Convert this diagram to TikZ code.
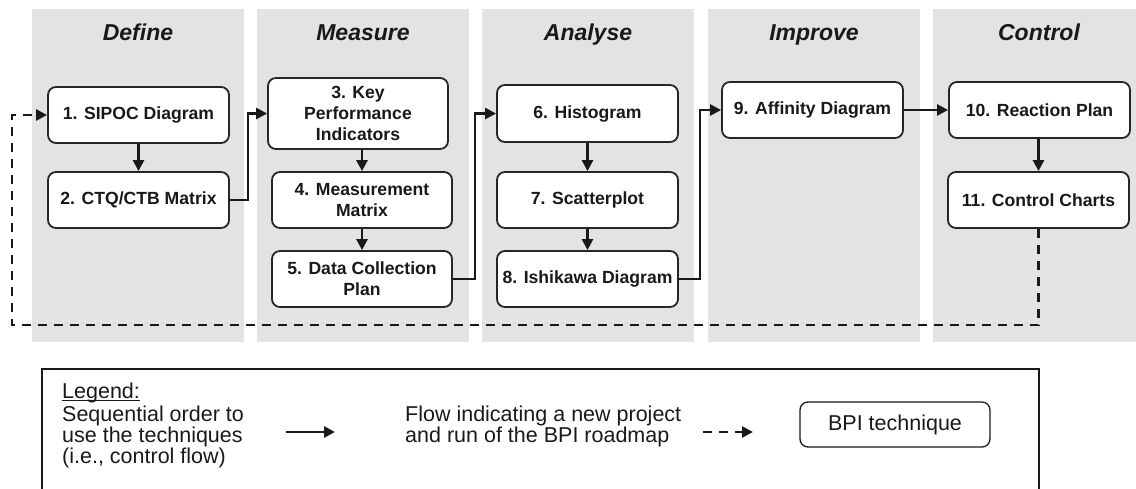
\documentclass[tikz,border=0pt]{standalone}
\usepackage{fontspec}
\setmainfont{Liberation Sans}
\usetikzlibrary{arrows.meta}
\definecolor{panelgray}{gray}{0.89}
\definecolor{ink}{gray}{0.1}
\definecolor{edge}{gray}{0.15}
% underline with a heavier rule than \underline gives
\newcommand{\heavyul}[1]{{\setbox0=\hbox{#1}\rlap{\rule[-3pt]{\wd0}{1.3pt}}\box0}}

\begin{document}
\begin{tikzpicture}[x=1pt, y=-1pt,
  phase/.style={fill=panelgray, draw=none},
  phasetitle/.style={font=\fontsize{23}{27}\selectfont\bfseries\itshape, text=ink, anchor=base},
  technique/.style={draw=edge, line width=1.8pt, rounded corners=8pt, fill=white,
    align=center, inner sep=0pt, minimum width=181pt, minimum height=56pt,
    font=\fontsize{17.6}{21}\selectfont\bfseries, text=ink},
  flow/.style={draw=ink, line width=2.5pt, -{Triangle[length=11pt,width=11pt]}},
  restart/.style={flow, dash pattern=on 9pt off 7pt},
  legendtext/.style={font=\fontsize{21.5}{19}\selectfont, text=ink, align=left, inner sep=0pt}
]
\useasboundingbox (0,0) rectangle (1136,488);

% DMAIC phase panels
\fill[phase] (32,9)  rectangle (244,342);
\fill[phase] (257,9) rectangle (469,342);
\fill[phase] (482,9) rectangle (694,342);
\fill[phase] (708,9) rectangle (920,342);
\fill[phase] (933,9) rectangle (1136,342);

\node[phasetitle] (pdefine)  at (138,40)  {Define};
\node[phasetitle] (pmeasure) at (363,40)  {Measure};
\node[phasetitle] (panalyse) at (588,40)  {Analyse};
\node[phasetitle] (pimprove) at (814,40)  {Improve};
\node[phasetitle] (pcontrol) at (1039,40) {Control};

% techniques
\node[technique] (t1) at (138.5,115) {1. SIPOC Diagram};
\node[technique] (t2) at (138.5,200) {2. CTQ/CTB Matrix};
\node[technique, minimum width=180pt, minimum height=71pt] (t3) at (358,113.5) {3. Key\\Performance\\Indicators};
\node[technique, minimum width=180pt] (t4) at (362,200) {4. Measurement\\Matrix};
\node[technique, minimum width=180pt] (t5) at (362,279) {5. Data Collection\\Plan};
\node[technique, minimum height=57pt] (t6) at (587.5,113.5) {6. Histogram};
\node[technique] (t7) at (587.5,200) {7. Scatterplot};
\node[technique] (t8) at (587.5,279) {8. Ishikawa Diagram};
\node[technique] (t9) at (812.5,110) {9. Affinity Diagram};
\node[technique] (t10) at (1039.5,110) {10. Reaction Plan};
\node[technique] (t11) at (1038.5,200) {11. Control Charts};

% bends of the connectors
\coordinate (j1) at (248,0);
\coordinate (j2) at (475,0);
\coordinate (j3) at (700,0);
\coordinate (loopcorner) at (12,325);

% control flow
\draw[flow] (t1.south) -- (t2.north);
\draw[flow] (t2.east) -- (t2.east -| j1) |- (t3.west);
\draw[flow] (t3.south -| t4.north) -- (t4.north);
\draw[flow] (t4.south) -- (t5.north);
\draw[flow] (t5.east) -- (t5.east -| j2) |- (t6.west);
\draw[flow] (t6.south) -- (t7.north);
\draw[flow] (t7.south) -- (t8.north);
\draw[flow] (t8.east) -- (t8.east -| j3) |- (t9.west);
\draw[flow] (t9.east) -- (t10.west);
\draw[flow] (t10.south -| t11.north) -- (t11.north);

% new project: back to the start of the roadmap
\draw[restart] (t11.south) |- (loopcorner) |- (t1.west);

% legend
\draw[draw=ink, line width=1.3pt] (42,492) |- (1039,369) -- (1039,492);
\node[legendtext, anchor=base west] (leghead) at (62,398) {\heavyul{Legend:}};
\node[legendtext, anchor=north west] (legseq) at (62,405.5)
  {Sequential order to\\use the techniques\\(i.e., control flow)};
\node[legendtext, anchor=north west] (legnew) at (405,405.5)
  {Flow indicating a new project\\and run of the BPI roadmap};
\coordinate (sa) at (286,432);
\coordinate (sb) at (335,432);
\draw[flow] (sa) -- (sb);
\coordinate (da) at (703,432);
\coordinate (db) at (753,432);
\draw[restart] (da) -- (db);
\node[draw=ink, line width=1.3pt, rounded corners=8pt, minimum width=190pt, minimum height=45pt,
  inner sep=0pt, font=\fontsize{21.5}{24}\selectfont, text=ink] (bpi) at (895,424.5) {BPI technique};
\end{tikzpicture}
\end{document}
